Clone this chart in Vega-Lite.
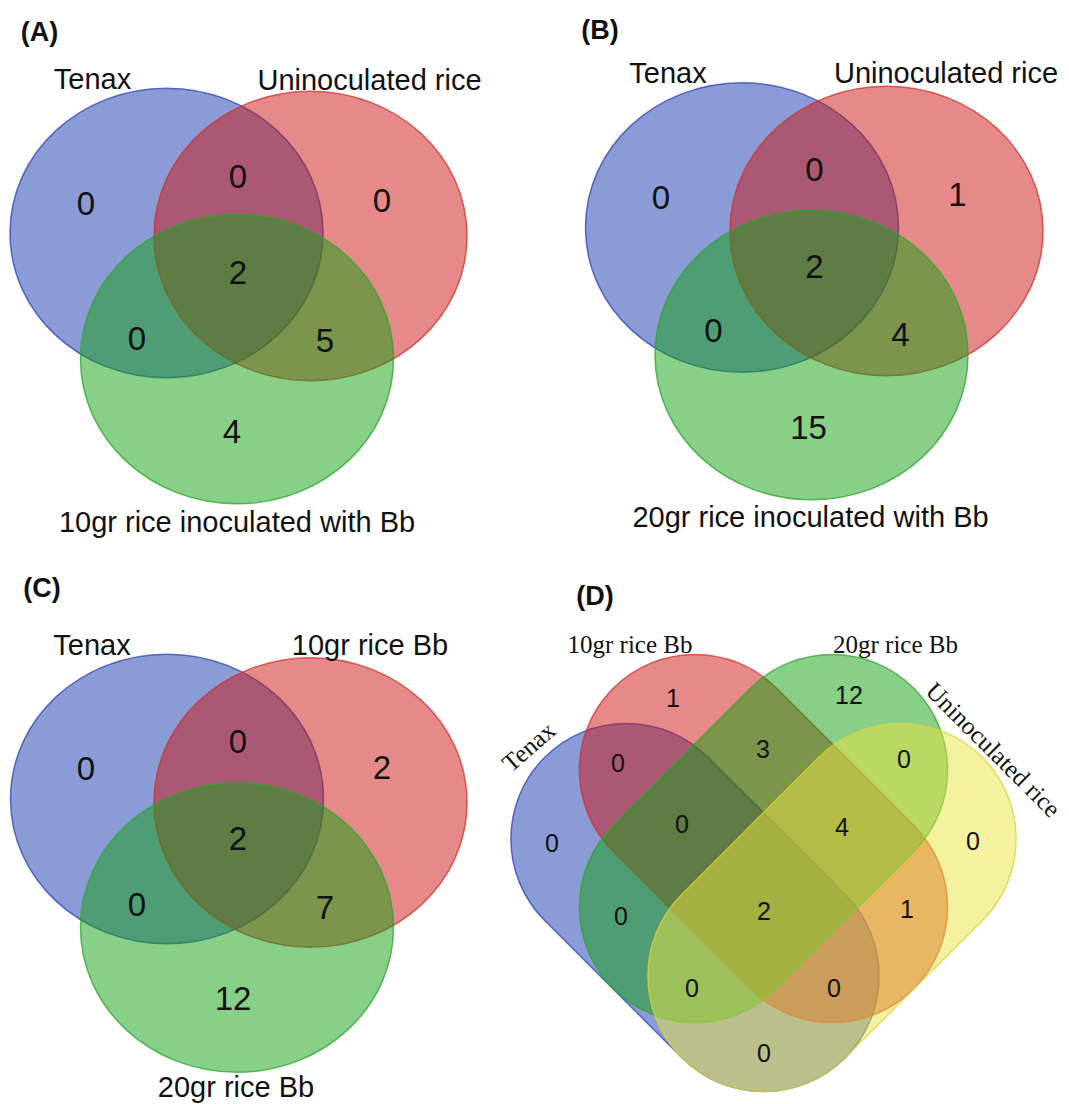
{
  "$schema": "https://vega.github.io/schema/vega-lite/v6.json",
  "width": 1069,
  "height": 1104,
  "padding": 0,
  "autosize": {"type": "none"},
  "background": "white",
  "config": {"view": {"stroke": null}},
  "datasets": {
    "sets": [
      {"panel": "A", "set": "Tenax", "slot": 1, "x": 166.5, "y": 233, "r": 156.5},
      {"panel": "A", "set": "Uninoculated rice", "slot": 2, "x": 310.5, "y": 236, "r": 156.5},
      {"panel": "A", "set": "10gr rice inoculated with Bb", "slot": 3, "x": 237, "y": 359, "r": 156.5},
      {"panel": "B", "set": "Tenax", "slot": 1, "x": 742, "y": 227.5, "r": 156.5},
      {"panel": "B", "set": "Uninoculated rice", "slot": 2, "x": 886.5, "y": 231, "r": 156.5},
      {"panel": "B", "set": "20gr rice inoculated with Bb", "slot": 3, "x": 811.5, "y": 355, "r": 156.5},
      {"panel": "C", "set": "Tenax", "slot": 1, "x": 167, "y": 799, "r": 156.5},
      {"panel": "C", "set": "10gr rice Bb", "slot": 2, "x": 310.5, "y": 802.5, "r": 156.5},
      {"panel": "C", "set": "20gr rice Bb", "slot": 3, "x": 237, "y": 927.5, "r": 156.5},
      {"panel": "D", "set": "Tenax", "slot": 1, "x": 695, "y": 907.5, "r": 212.5, "axis": "NW-SE"},
      {"panel": "D", "set": "10gr rice Bb", "slot": 2, "x": 763.5, "y": 838.5, "r": 212.5, "axis": "NW-SE"},
      {"panel": "D", "set": "20gr rice Bb", "slot": 3, "x": 763.5, "y": 838.5, "r": 212.5, "axis": "NE-SW"},
      {"panel": "D", "set": "Uninoculated rice", "slot": 4, "x": 832, "y": 907.5, "r": 212.5, "axis": "NE-SW"}
    ],
    "counts": [
      {"panel": "A", "region": "Tenax only", "n": "0", "x": 86, "y": 203},
      {"panel": "A", "region": "Tenax & Uninoculated", "n": "0", "x": 238, "y": 176},
      {"panel": "A", "region": "Uninoculated only", "n": "0", "x": 382, "y": 200},
      {"panel": "A", "region": "all three", "n": "2", "x": 238, "y": 272},
      {"panel": "A", "region": "Tenax & 10gr", "n": "0", "x": 137, "y": 338},
      {"panel": "A", "region": "Uninoculated & 10gr", "n": "5", "x": 325, "y": 340},
      {"panel": "A", "region": "10gr only", "n": "4", "x": 232, "y": 431},
      {"panel": "B", "region": "Tenax only", "n": "0", "x": 661, "y": 196.5},
      {"panel": "B", "region": "Tenax & Uninoculated", "n": "0", "x": 814.5, "y": 169},
      {"panel": "B", "region": "Uninoculated only", "n": "1", "x": 957.5, "y": 194},
      {"panel": "B", "region": "all three", "n": "2", "x": 814.5, "y": 265.5},
      {"panel": "B", "region": "Tenax & 20gr", "n": "0", "x": 713.5, "y": 330},
      {"panel": "B", "region": "Uninoculated & 20gr", "n": "4", "x": 900.5, "y": 334},
      {"panel": "B", "region": "20gr only", "n": "15", "x": 808.5, "y": 427},
      {"panel": "C", "region": "Tenax only", "n": "0", "x": 86, "y": 768},
      {"panel": "C", "region": "Tenax & 10gr", "n": "0", "x": 238, "y": 740.5},
      {"panel": "C", "region": "10gr only", "n": "2", "x": 382, "y": 766.5},
      {"panel": "C", "region": "all three", "n": "2", "x": 238, "y": 838},
      {"panel": "C", "region": "Tenax & 20gr", "n": "0", "x": 137, "y": 904},
      {"panel": "C", "region": "10gr & 20gr", "n": "7", "x": 325, "y": 907},
      {"panel": "C", "region": "20gr only", "n": "12", "x": 233, "y": 998},
      {"panel": "D", "region": "10gr only", "n": "1", "x": 673, "y": 697.5},
      {"panel": "D", "region": "20gr only", "n": "12", "x": 849, "y": 694},
      {"panel": "D", "region": "Tenax & 10gr", "n": "0", "x": 618, "y": 762},
      {"panel": "D", "region": "10gr & 20gr", "n": "3", "x": 763, "y": 748},
      {"panel": "D", "region": "20gr & Uninoculated", "n": "0", "x": 904, "y": 758.5},
      {"panel": "D", "region": "Tenax only", "n": "0", "x": 552, "y": 842},
      {"panel": "D", "region": "Tenax & 10gr & 20gr", "n": "0", "x": 682, "y": 823},
      {"panel": "D", "region": "10gr & 20gr & Uninoculated", "n": "4", "x": 842, "y": 826.5},
      {"panel": "D", "region": "Uninoculated only", "n": "0", "x": 973, "y": 840.5},
      {"panel": "D", "region": "Tenax & 20gr", "n": "0", "x": 621, "y": 915},
      {"panel": "D", "region": "all four", "n": "2", "x": 764, "y": 910},
      {"panel": "D", "region": "10gr & Uninoculated", "n": "1", "x": 907, "y": 908.5},
      {"panel": "D", "region": "Tenax & 20gr & Uninoculated", "n": "0", "x": 692, "y": 987},
      {"panel": "D", "region": "Tenax & 10gr & Uninoculated", "n": "0", "x": 834, "y": 987},
      {"panel": "D", "region": "Tenax & Uninoculated", "n": "0", "x": 764, "y": 1052}
    ],
    "titles": [
      {"label": "(A)", "x": 39.5, "y": 33},
      {"label": "(B)", "x": 600, "y": 31},
      {"label": "(C)", "x": 42, "y": 588.5},
      {"label": "(D)", "x": 595, "y": 596.5}
    ],
    "setlabels": [
      {"panel": "A", "label": "Tenax", "x": 92.5, "y": 79},
      {"panel": "A", "label": "Uninoculated rice", "x": 369.5, "y": 80},
      {"panel": "A", "label": "10gr rice inoculated with Bb", "x": 237, "y": 522},
      {"panel": "B", "label": "Tenax", "x": 668, "y": 73},
      {"panel": "B", "label": "Uninoculated rice", "x": 946, "y": 73},
      {"panel": "B", "label": "20gr rice inoculated with Bb", "x": 810.5, "y": 517},
      {"panel": "C", "label": "Tenax", "x": 92, "y": 645},
      {"panel": "C", "label": "10gr rice Bb", "x": 370, "y": 645},
      {"panel": "C", "label": "20gr rice Bb", "x": 236, "y": 1087}
    ],
    "dlabels": [
      {"label": "10gr rice Bb", "x": 630, "y": 645, "dir": "flat"},
      {"label": "20gr rice Bb", "x": 895.5, "y": 645, "dir": "flat"},
      {"label": "Tenax", "x": 529, "y": 747, "dir": "up"},
      {"label": "Uninoculated rice", "x": 993, "y": 750, "dir": "down"}
    ]
  },
  "encoding": {
    "x": {"field": "x", "type": "quantitative", "scale": {"domain": [0, 1069], "nice": false, "zero": false}, "axis": null},
    "y": {"field": "y", "type": "quantitative", "scale": {"domain": [1104, 0], "nice": false, "zero": false}, "axis": null}
  },
  "layer": [
    {
      "data": {"name": "sets"},
      "transform": [{"filter": "datum.panel != 'D'"}],
      "mark": {
        "type": "point",
        "shape": "M1,0 C1,0.5109 0.5523,0.925 0,0.925 C-0.5523,0.925 -1,0.5109 -1,0 C-1,-0.5109 -0.5523,-0.925 0,-0.925 C0.5523,-0.925 1,-0.5109 1,0 Z",
        "filled": true, "opacity": 1, "fillOpacity": 0.5, "strokeOpacity": 0.75, "strokeWidth": 1.5
      },
      "encoding": {
        "size": {"field": "r", "type": "quantitative", "scale": {"type": "pow", "exponent": 2, "domain": [0, 250], "range": [0, 250000]}, "legend": null},
        "fill": {"field": "slot", "type": "nominal", "scale": {"domain": [1, 2, 3, 4], "range": ["#1537AD", "#CB1511", "#119F11", "#EAE43F"]}, "legend": null},
        "stroke": {"field": "slot", "type": "nominal", "scale": {"domain": [1, 2, 3, 4], "range": ["#2F45B5", "#D0312E", "#2EA52E", "#D9D43A"]}, "legend": null}
      }
    },
    {
      "data": {"name": "sets"},
      "transform": [{"filter": "datum.panel == 'D' && datum.axis == 'NW-SE'"}],
      "mark": {
        "type": "point",
        "angle": 45,
        "shape": "M-0.4565,-0.5435 L0.4565,-0.5435 C0.7567,-0.5435 1,-0.3002 1,0 C1,0.3002 0.7567,0.5435 0.4565,0.5435 L-0.4565,0.5435 C-0.7567,0.5435 -1,0.3002 -1,0 C-1,-0.3002 -0.7567,-0.5435 -0.4565,-0.5435 Z",
        "filled": true, "opacity": 1, "fillOpacity": 0.5, "strokeOpacity": 0.75, "strokeWidth": 1.5
      },
      "encoding": {
        "size": {"field": "r", "type": "quantitative", "scale": {"type": "pow", "exponent": 2, "domain": [0, 250], "range": [0, 250000]}, "legend": null},
        "fill": {"field": "slot", "type": "nominal", "scale": {"domain": [1, 2, 3, 4], "range": ["#1537AD", "#CB1511", "#119F11", "#EAE43F"]}, "legend": null},
        "stroke": {"field": "slot", "type": "nominal", "scale": {"domain": [1, 2, 3, 4], "range": ["#2F45B5", "#D0312E", "#2EA52E", "#D9D43A"]}, "legend": null}
      }
    },
    {
      "data": {"name": "sets"},
      "transform": [{"filter": "datum.panel == 'D' && datum.axis == 'NE-SW'"}],
      "mark": {
        "type": "point",
        "angle": -45,
        "shape": "M-0.4565,-0.5435 L0.4565,-0.5435 C0.7567,-0.5435 1,-0.3002 1,0 C1,0.3002 0.7567,0.5435 0.4565,0.5435 L-0.4565,0.5435 C-0.7567,0.5435 -1,0.3002 -1,0 C-1,-0.3002 -0.7567,-0.5435 -0.4565,-0.5435 Z",
        "filled": true, "opacity": 1, "fillOpacity": 0.5, "strokeOpacity": 0.75, "strokeWidth": 1.5
      },
      "encoding": {
        "size": {"field": "r", "type": "quantitative", "scale": {"type": "pow", "exponent": 2, "domain": [0, 250], "range": [0, 250000]}, "legend": null},
        "fill": {"field": "slot", "type": "nominal", "scale": {"domain": [1, 2, 3, 4], "range": ["#1537AD", "#CB1511", "#119F11", "#EAE43F"]}, "legend": null},
        "stroke": {"field": "slot", "type": "nominal", "scale": {"domain": [1, 2, 3, 4], "range": ["#2F45B5", "#D0312E", "#2EA52E", "#D9D43A"]}, "legend": null}
      }
    },
    {
      "data": {"name": "titles"},
      "mark": {"type": "text", "font": "Liberation Sans", "fontWeight": "bold", "fontSize": 27, "align": "center", "baseline": "middle", "color": "#111111"},
      "encoding": {"text": {"field": "label"}}
    },
    {
      "data": {"name": "setlabels"},
      "mark": {"type": "text", "font": "Liberation Sans", "fontSize": 29, "align": "center", "baseline": "middle", "dy": 1, "color": "#111111"},
      "encoding": {"text": {"field": "label"}}
    },
    {
      "data": {"name": "counts"},
      "transform": [{"filter": "datum.panel != 'D'"}],
      "mark": {"type": "text", "font": "Liberation Sans", "fontSize": 33, "align": "center", "baseline": "middle", "dy": 2, "color": "#111111"},
      "encoding": {"text": {"field": "n"}}
    },
    {
      "data": {"name": "counts"},
      "transform": [{"filter": "datum.panel == 'D'"}],
      "mark": {"type": "text", "font": "Liberation Sans", "fontSize": 25, "align": "center", "baseline": "middle", "dy": 1.5, "color": "#111111"},
      "encoding": {"text": {"field": "n"}}
    },
    {
      "data": {"name": "dlabels"},
      "transform": [{"filter": "datum.dir == 'flat'"}],
      "mark": {"type": "text", "font": "Liberation Serif", "fontSize": 25, "align": "center", "baseline": "middle", "color": "#111111"},
      "encoding": {"text": {"field": "label"}}
    },
    {
      "data": {"name": "dlabels"},
      "transform": [{"filter": "datum.dir == 'up'"}],
      "mark": {"type": "text", "font": "Liberation Serif", "fontSize": 25, "align": "center", "baseline": "middle", "angle": -41, "color": "#111111"},
      "encoding": {"text": {"field": "label"}}
    },
    {
      "data": {"name": "dlabels"},
      "transform": [{"filter": "datum.dir == 'down'"}],
      "mark": {"type": "text", "font": "Liberation Serif", "fontSize": 25, "align": "center", "baseline": "middle", "angle": 45, "color": "#111111"},
      "encoding": {"text": {"field": "label"}}
    }
  ]
}
